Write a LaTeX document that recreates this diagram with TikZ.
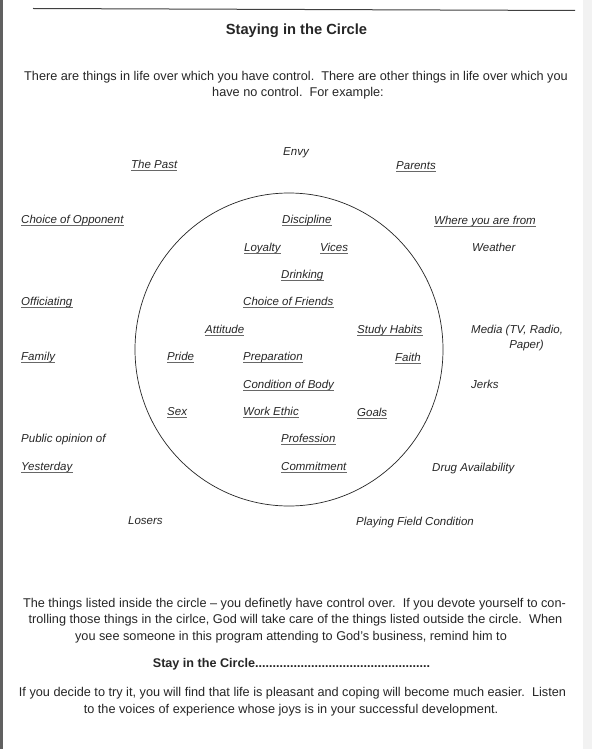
\documentclass[tikz,border=0pt]{standalone}
\usepackage{fontspec}
\setmainfont{Liberation Sans}
\definecolor{ink}{gray}{0.15}
\begin{document}
\begin{tikzpicture}[x=1pt,y=-1pt,
  body/.style={font=\fontsize{12.7}{15}\selectfont, inner sep=0, anchor=base, text=ink},
  titlestyle/.style={font=\fontsize{14.7}{17}\selectfont\bfseries, inner sep=0, anchor=base, text=ink},
  staystyle/.style={body, font=\fontsize{12.6}{15}\selectfont\bfseries},
  item/.style={font=\fontsize{11.5}{14}\selectfont\itshape, inner sep=0, anchor=base west, text=ink},
  uline/.style={draw=ink!70, line width=0.6pt},
  uitem/.style={item, append after command={([yshift=-2pt]\tikzlastnode.base west) edge[uline] ([yshift=-2pt]\tikzlastnode.base east)}}
]
\useasboundingbox (0,0) rectangle (592,749);
\fill[white] (0,0) rectangle (592,749);
% scan edges
\fill[gray!75!black] (0,0) rectangle (2.5,749);
\fill[gray!10] (583,0) rectangle (592,749);
\draw[gray!50!black, line width=1pt] (33,8.5) -- (575,10.5);

% title and intro
\node[titlestyle] (title) at (296.5,35) {Staying in the Circle};
\node[body] (intro1) at (296,80.5) {There are things in life over which you have control.\ \ There are other things in life over which you};
\node[body] (intro2) at (298,96.5) {have no control.\ \ For example:};

% the circle
\coordinate (cc) at (289,349.5);
\draw[ink, line width=0.7pt] (cc) ellipse [x radius=154, y radius=156.5];

% outside the circle
\node[item, anchor=base] (envy) at (296,155) {Envy};
\node[uitem] (past) at (131,168) {The Past};
\node[uitem] (parents) at (396,169) {Parents};
\node[uitem] (opponent) at (21,223) {Choice of Opponent};
\node[uitem] (where) at (434,224) {Where you are from};
\node[item] (weather) at (472,251) {Weather};
\node[uitem] (officiating) at (21,305) {Officiating};
\node[item] (media) at (471,333) {Media (TV, Radio,};
\node[item, anchor=base east] (paper) at (544,348) {Paper)};
\node[uitem] (family) at (21,360) {Family};
\node[item] (jerks) at (471,388) {Jerks};
\node[item] (public) at (21,442) {Public opinion of};
\node[uitem] (yesterday) at (21,470) {Yesterday};
\node[item] (drug) at (432,471) {Drug Availability};
\node[item] (losers) at (128,524) {Losers};
\node[item] (field) at (356,525) {Playing Field Condition};

% inside the circle
\node[uitem] (discipline) at (282,223) {Discipline};
\node[uitem] (loyalty) at (244,251) {Loyalty};
\node[uitem] (vices) at (320,251) {Vices};
\node[uitem] (drinking) at (281,278) {Drinking};
\node[uitem] (friends) at (243,305) {Choice of Friends};
\node[uitem] (attitude) at (205,333) {Attitude};
\node[uitem] (study) at (357,333) {Study Habits};
\node[uitem] (pride) at (167,360) {Pride};
\node[uitem] (preparation) at (243,360) {Preparation};
\node[uitem] (faith) at (395,361) {Faith};
\node[uitem] (body) at (243,388) {Condition of Body};
\node[uitem] (sex) at (167,415) {Sex};
\node[uitem] (ethic) at (243,415) {Work Ethic};
\node[uitem] (goals) at (357,416) {Goals};
\node[uitem] (profession) at (281,442) {Profession};
\node[uitem] (commitment) at (281,470) {Commitment};

% closing text
\node[body] (close1) at (294.5,607.5) {The things listed inside the circle -- you definetly have control over.\ \ If you devote yourself to con-};
\node[body] (close2) at (295.5,623.5) {trolling those things in the cirlce, God will take care of the things listed outside the circle.\ \ When};
\node[body] (close3) at (291,640.5) {you see someone in this program attending to God’s business, remind him to};
\node[staystyle] (stay) at (291.5,667) {Stay in the Circle..................................................};
\node[body] (final1) at (292.5,696.5) {If you decide to try it, you will find that life is pleasant and coping will become much easier.\ \ Listen};
\node[body] (final2) at (291,713.5) {to the voices of experience whose joys is in your successful development.};
\end{tikzpicture}
\end{document}
